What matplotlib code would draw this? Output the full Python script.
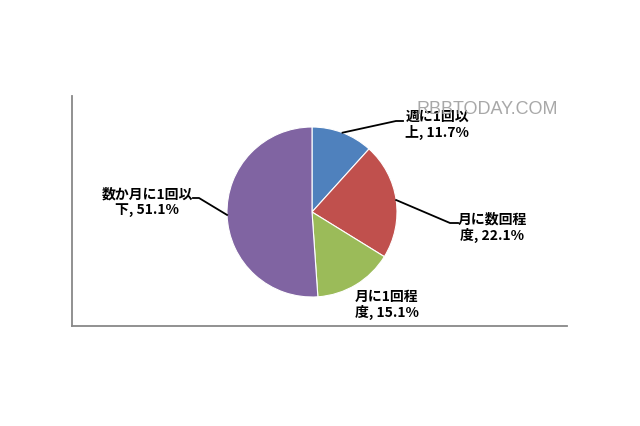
import numpy as np
import matplotlib
matplotlib.use('Agg')
from matplotlib import pyplot as plt

plt.rcParams['font.family'] = ['Noto Sans CJK JP', 'DejaVu Sans']

labels = ['週に1回以\n上, 11.7%', '月に数回程\n度, 22.1%', '月に1回程\n度, 15.1%', '数か月に1回以\n下, 51.1%']
values = [11.7, 22.1, 15.1, 51.1]
colors = ['#4F81BD', '#C0504D', '#9BBB59', '#8064A2']

fig = plt.figure(figsize=(6.4, 4.26), dpi=100)
ax = fig.add_axes([0, 0, 1, 1])

cx, cy, r = 312, 214, 85
wedges, _ = ax.pie(values, colors=colors, startangle=90, counterclock=False,
                   center=(cx, cy), radius=r, frame=True,
                   wedgeprops=dict(edgecolor='white', linewidth=0.8))
ax.set_xlim(0, 640)
ax.set_ylim(0, 426)
ax.set_aspect('equal')
ax.axis('off')

# frame of the chart area (left and bottom only visible)
ax.plot([72, 72], [426 - 96, 426 - 326], color='#888888', lw=1.3)
ax.plot([72, 567], [426 - 326, 426 - 326], color='#888888', lw=1.3)

# label centres and leader line points (label end, bend)
label_pos = [(437, 426 - 125), (492, 426 - 228), (387, 426 - 305), (147, 426 - 202)]
ends = [(403, 426 - 121), (458, 426 - 223), None, (193, 426 - 198)]
bends = [(396, 426 - 121), (450, 426 - 223), None, (199, 426 - 198)]

for w, lab, pos, e, b in zip(wedges, labels, label_pos, ends, bends):
    ax.text(pos[0], pos[1], lab, ha='center', va='center', fontsize=10,
            fontweight='bold', linespacing=1.12)
    if e is None:
        continue
    mid = np.deg2rad((w.theta1 + w.theta2) / 2)
    px, py = cx + r * np.cos(mid), cy + r * np.sin(mid)
    ax.plot([e[0], b[0], px], [e[1], b[1], py], color='black', lw=1.3)

ax.text(487, 426 - 110, 'RBBTODAY.COM', ha='center', va='center', fontsize=13,
        color='#a8a8a8', family='Liberation Sans')

fig.savefig('out.png', dpi=100, facecolor='white')
